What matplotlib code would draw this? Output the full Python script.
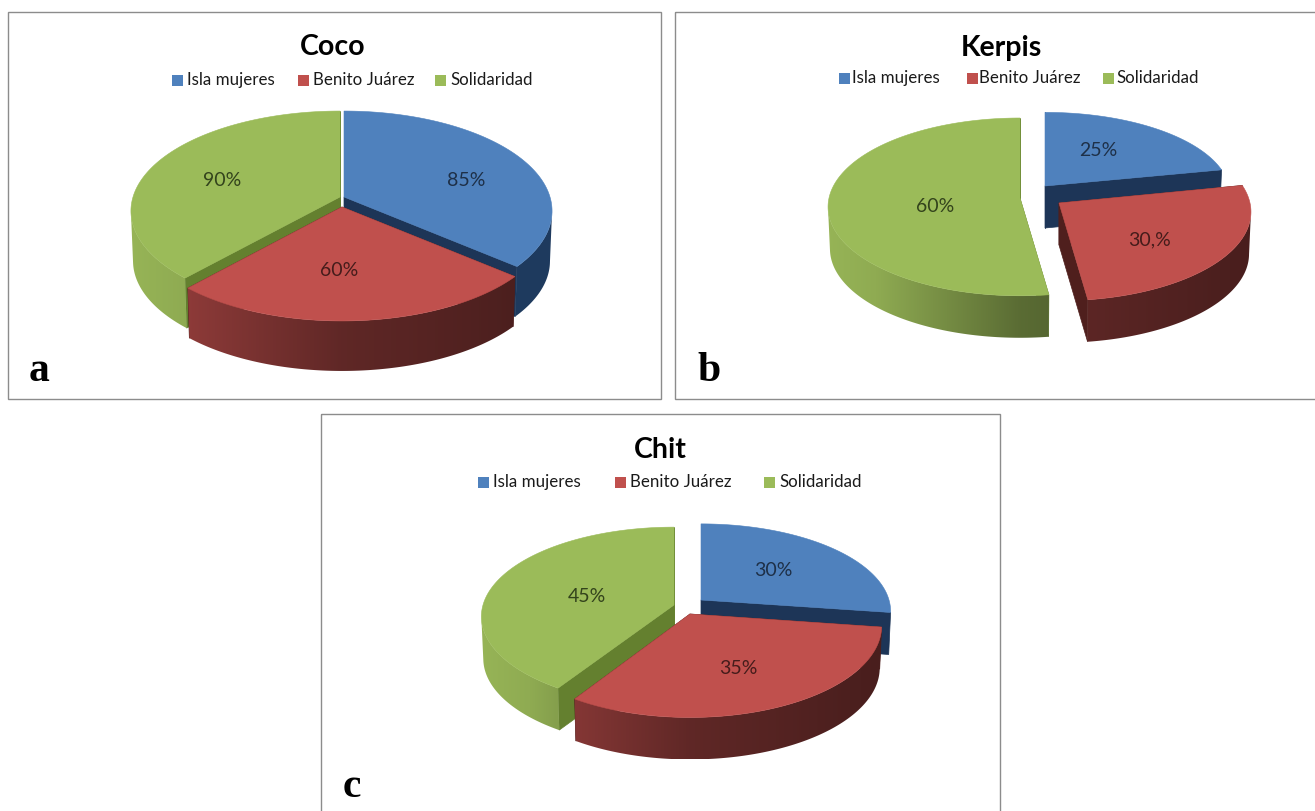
import numpy as np
import matplotlib
matplotlib.use("Agg")
import matplotlib.pyplot as plt
from matplotlib.patches import Polygon, Rectangle

municipios = ["Isla mujeres", "Benito Juárez", "Solidaridad"]

coco_values = [85, 60, 90]
kerpis_values = [25, 30, 60]
chit_values = [30, 35, 45]

coco_labels = ["85%", "60%", "90%"]
kerpis_labels = ["25%", "30,%", "60%"]
chit_labels = ["30%", "35%", "45%"]

top_colors = ["#4F81BD", "#C0504D", "#9BBB59"]
radial_colors = ["#1D3557", "#4F1F1D", "#64802F"]
label_colors = ["#1E3048", "#451C1B", "#33431C"]

# wall brightness against position across the pie, for each slice colour
shade_pos = [0.0, 0.13, 0.5, 0.9, 1.0]
shade_mult = [
    [1.0, 1.0, 1.0, 1.0, 1.0],
    [0.78, 0.74, 0.50, 0.40, 0.38],
    [0.97, 0.92, 0.58, 0.42, 0.38],
]
wall_base = [(0.12, 0.23, 0.37), (0.75, 0.31, 0.30), (0.61, 0.73, 0.35)]

# per-panel layout in pixels: apex and radii are set slice by slice
panels = [
    dict(title="Coco", letter="a", values=coco_values, labels=coco_labels,
         frame=(8.5, 12, 652.5, 387), title_xy=(333, 47), letter_xy=(29, 381),
         apex=[(344, 197), (342, 207), (340, 197)], ry=[98, 98, 98],
         rx=[206, 206, 207], persp=0.14, depth=50,
         label_xy=[(466, 180), (339, 271), (222, 180)],
         legend_y=80, swatch_x=[172, 298, 435], text_x=[187, 313, 450]),
    dict(title="Kerpis", letter="b", values=kerpis_values, labels=kerpis_labels,
         frame=(675.5, 12, 645, 387), title_xy=(1001, 48), letter_xy=(697, 381),
         apex=[(1045, 186), (1059, 203), (1020, 198)], ry=[81, 88, 88],
         rx=[184, 191, 191], persp=0.10, depth=42,
         label_xy=[(1098, 151), (1150, 240), (935, 207)],
         legend_y=78, swatch_x=[839, 967, 1103], text_x=[852, 979, 1116]),
    dict(title="Chit", letter="c", values=chit_values, labels=chit_labels,
         frame=(321, 414, 679, 405), title_xy=(660, 450), letter_xy=(343, 797),
         apex=[(701, 600), (690, 614), (674, 605)], ry=[86, 90, 88],
         rx=[188, 190, 191], persp=0.13, depth=42,
         label_xy=[(773, 570), (738, 668), (587, 597)],
         legend_y=482, swatch_x=[478, 615, 764], text_x=[493, 630, 779]),
]

TEXT_FONT = ["Lato", "DejaVu Sans"]
LETTER_FONT = ["Liberation Serif", "DejaVu Serif"]


def project(theta, apex, rx, ry, persp, drop=0.0, shrink=1.0):
    # flat disc seen from above, front of the disc drawn a little larger
    x = np.sin(theta)
    y = np.cos(theta)
    s = 1 / (1 + persp * y)
    return apex[0] + rx * x * s * shrink, apex[1] - ry * y * s + drop


def draw_slice(ax, idx, start, end, panel, z):
    apex = panel["apex"][idx]
    ry = panel["ry"][idx]
    rx = panel["rx"][idx]
    persp, depth = panel["persp"], panel["depth"]
    theta = np.linspace(start, end, 160)

    tx, ty = project(theta, apex, rx, ry, persp)
    bx, by = project(theta, apex, rx, ry, persp, drop=depth, shrink=0.99)
    low_apex = (apex[0], apex[1] + depth)

    # flat cut faces along both straight edges
    for i in (0, -1):
        quad = [apex, (tx[i], ty[i]), (bx[i], by[i]), low_apex]
        ax.add_patch(Polygon(quad, closed=True, color=radial_colors[idx], lw=0.5, zorder=z))

    # curved rim: only the part facing the viewer, between the two side extremes
    side = np.arccos(-persp)
    front = (theta >= side) & (theta <= 2 * np.pi - side)
    if front.sum() > 1:
        outline = list(zip(tx[front], ty[front])) + list(zip(bx[front][::-1], by[front][::-1]))
        wall = Polygon(outline, closed=True, fill=False, edgecolor="none", transform=ax.transData)
        ax.add_patch(wall)
        left, right = apex[0] - rx, apex[0] + rx
        fracs = np.linspace(0, 1, 256)
        mult = np.interp(fracs, shade_pos, shade_mult[idx])
        gradient = np.outer(mult, wall_base[idx]).reshape(1, 256, 3)
        top_edge, bottom_edge = min(ty.min(), by.min()), max(ty.max(), by.max())
        im = ax.imshow(gradient, extent=(left - 5, right + 5, bottom_edge, top_edge),
                       aspect="auto", interpolation="bilinear", zorder=z + 1)
        im.set_clip_path(wall)

    face = [apex] + list(zip(tx, ty))
    ax.add_patch(Polygon(face, closed=True, color=top_colors[idx], lw=0.4, zorder=z + 2))


fig = plt.figure(figsize=(13.15, 8.11), dpi=100)
ax = fig.add_axes([0, 0, 1, 1])

for panel in panels:
    ax.add_patch(Rectangle(panel["frame"][:2], panel["frame"][2], panel["frame"][3],
                           fill=False, edgecolor="#8C8C8C", lw=1.0))

    shares = np.array(panel["values"], dtype=float)
    edges = np.concatenate([[0], np.cumsum(shares / shares.sum()) * 2 * np.pi])

    # back slices first, the red one sits in front of the other two
    for order, idx in enumerate([0, 2, 1]):
        draw_slice(ax, idx, edges[idx], edges[idx + 1], panel, 2 + order * 3)

    for idx, (x, y) in enumerate(panel["label_xy"]):
        ax.text(x, y, panel["labels"][idx], ha="center", va="center", fontsize=14,
                color=label_colors[idx], family=TEXT_FONT, zorder=20)

    ax.text(panel["title_xy"][0], panel["title_xy"][1], panel["title"], ha="center",
            va="center", fontsize=20.5, fontweight="bold", color="black", family=TEXT_FONT)
    ax.text(panel["letter_xy"][0], panel["letter_xy"][1], panel["letter"], ha="left",
            va="baseline", fontsize=30, fontweight="bold", color="black", family=LETTER_FONT)

    # legend row above each pie
    for idx, name in enumerate(municipios):
        ax.add_patch(Rectangle((panel["swatch_x"][idx], panel["legend_y"] - 5.5), 11, 11,
                               color=top_colors[idx], lw=0))
        ax.text(panel["text_x"][idx], panel["legend_y"], name, ha="left", va="center",
                fontsize=12.2, color="#1A1A1A", family=TEXT_FONT)

ax.set_xlim(0, 1315)
ax.set_ylim(811, 0)
ax.axis("off")

fig.savefig("out.png", dpi=100, facecolor="white")
plt.close(fig)
